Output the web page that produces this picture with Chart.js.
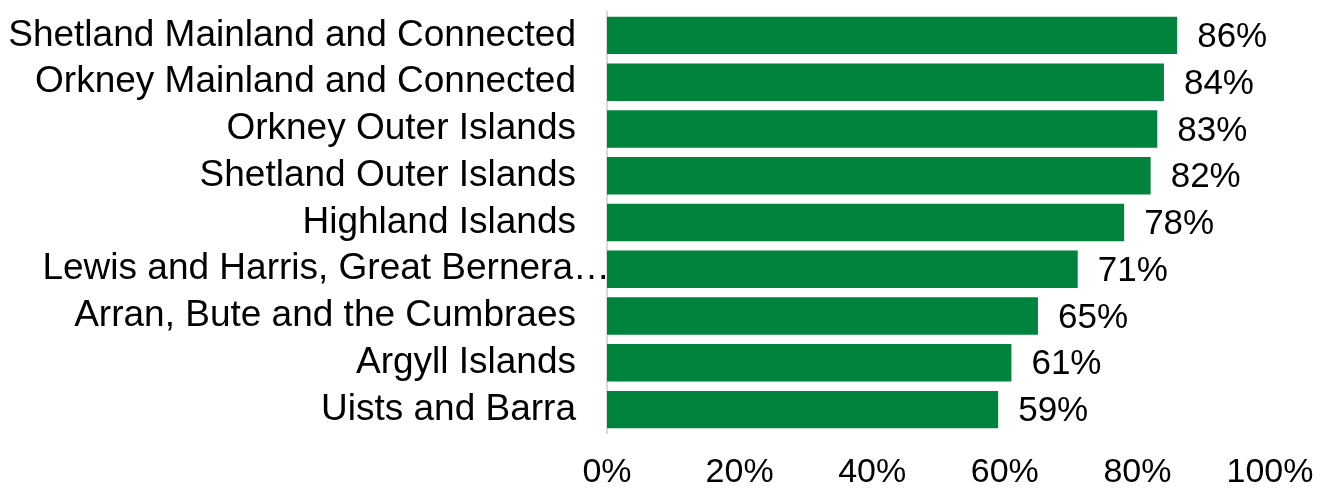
<!DOCTYPE html>
<html>
<head>
<meta charset="utf-8">
<script src="https://cdn.jsdelivr.net/npm/chart.js@4/dist/chart.umd.min.js"></script>
<style>
  html, body { margin: 0; padding: 0; background: #fff; }
  .chart-container { width: 1330px; height: 502px; position: relative; }
</style>
</head>
<body>
<div class="chart-container"><canvas id="chart"></canvas></div>
<script>
const islandGroups = [
  'Shetland Mainland and Connected',
  'Orkney Mainland and Connected',
  'Orkney Outer Islands',
  'Shetland Outer Islands',
  'Highland Islands',
  'Lewis and Harris, Great Bernera…',
  'Arran, Bute and the Cumbraes',
  'Argyll Islands',
  'Uists and Barra'
];
const shareValues = [86, 84, 83, 82, 78, 71, 65, 61, 59];
const axisTicks = [0, 20, 40, 60, 80, 100];

const FONT = 'Liberation Sans, Arial, sans-serif';
const TRUNCATED = 5; // the cut-off label sits further right, over the axis line

// value labels at the end of each bar, plus the truncated category label
const barLabels = {
  id: 'barLabels',
  afterDatasetsDraw(chart) {
    const ctx = chart.ctx;
    const meta = chart.getDatasetMeta(0);
    ctx.save();
    ctx.fillStyle = '#000';
    ctx.textBaseline = 'middle';
    ctx.font = '35px ' + FONT;
    ctx.textAlign = 'left';
    meta.data.forEach((bar, i) => {
      ctx.fillText(shareValues[i] + '%', bar.x + 20, bar.y + 2);
    });
    const yScale = chart.scales.y;
    ctx.font = '37px ' + FONT;
    ctx.textAlign = 'right';
    ctx.fillText(islandGroups[TRUNCATED], chart.chartArea.left + 3, yScale.getPixelForValue(TRUNCATED));
    ctx.restore();
  }
};

new Chart(document.getElementById('chart'), {
  type: 'bar',
  data: {
    labels: islandGroups,
    datasets: [{
      data: shareValues,
      backgroundColor: '#00843D',
      borderWidth: 0,
      barPercentage: 0.8,
      categoryPercentage: 1.0
    }]
  },
  options: {
    indexAxis: 'y',
    responsive: true,
    maintainAspectRatio: false,
    animation: false,
    layout: { padding: { top: 12, right: 60, bottom: 7, left: 0 } },
    plugins: {
      legend: { display: false },
      tooltip: { enabled: false }
    },
    scales: {
      x: {
        min: 0,
        max: 100,
        afterBuildTicks: (scale) => {
          scale.ticks = axisTicks.map(v => ({ value: v }));
        },
        afterFit: (scale) => {
          scale.height = 62;
          scale.paddingLeft = 0;
          scale.paddingRight = 0;
        },
        grid: { display: false, drawTicks: false },
        border: { display: false },
        ticks: {
          padding: 19,
          color: '#000',
          font: { family: FONT, size: 34, lineHeight: 1.2 },
          callback: (v) => v + '%'
        }
      },
      y: {
        afterFit: (scale) => {
          scale.width = 607;
          scale.paddingTop = 0;
          scale.paddingBottom = 0;
        },
        grid: { display: false, drawTicks: false },
        border: { display: true, color: '#d9d9d9', width: 2 },
        ticks: {
          padding: 31,
          autoSkip: false,
          color: (c) => c.index === TRUNCATED ? 'rgba(0,0,0,0)' : '#000',
          font: { family: FONT, size: 37 }
        }
      }
    }
  },
  plugins: [barLabels]
});
</script>
</body>
</html>
